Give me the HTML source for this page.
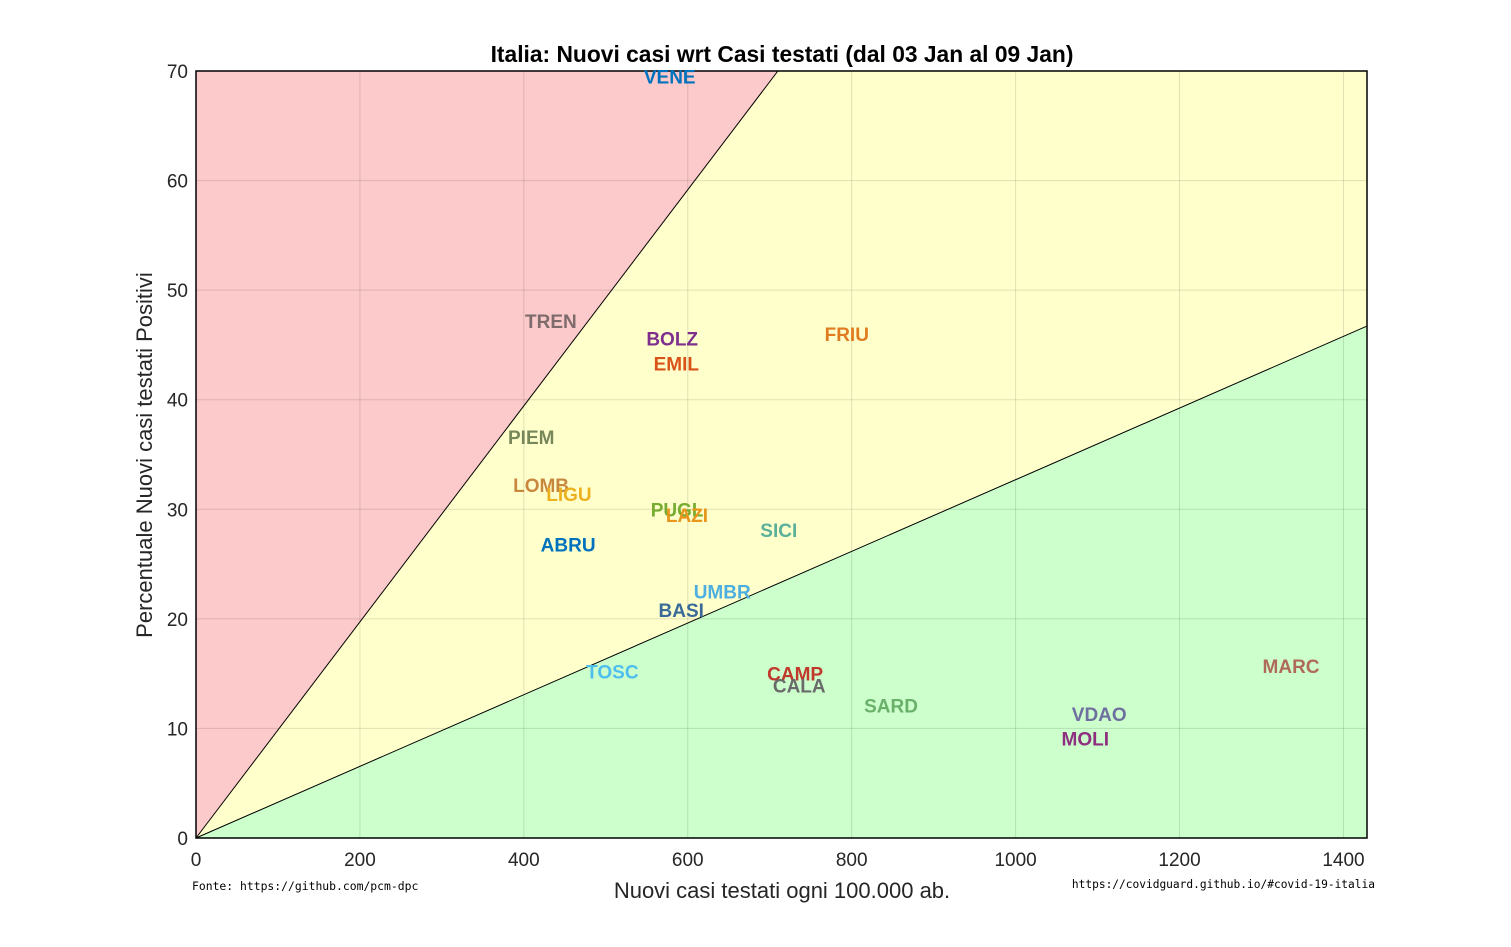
<!DOCTYPE html>
<html><head><meta charset="utf-8"><style>
body{margin:0;background:#fff;}
svg text{font-family:"Liberation Sans",Arial,sans-serif;}
svg text.mono{font-family:"DejaVu Sans Mono","Liberation Mono",monospace;}
</style></head><body>
<svg id="chart" width="1511" height="942" xmlns="http://www.w3.org/2000/svg">
<rect width="1511" height="942" fill="#fff"/>
<g id="plot"></g>
<text x="782" y="62" text-anchor="middle" font-size="22.8" font-weight="bold">Italia: Nuovi casi wrt Casi testati (dal 03 Jan al 09 Jan)</text>
<text x="782" y="898" text-anchor="middle" font-size="22" fill="#262626">Nuovi casi testati ogni 100.000 ab.</text>
<text transform="translate(152,455) rotate(-90)" text-anchor="middle" font-size="22" fill="#262626">Percentuale Nuovi casi testati Positivi</text>
<text class="mono" x="192" y="890" font-size="11.4">Fonte: https://github.com/pcm-dpc</text>
<text class="mono" x="1375" y="888" text-anchor="end" font-size="11.2">https://covidguard.github.io/#covid-19-italia</text>
</svg>
<script>
const regions=["VENE","TREN","BOLZ","EMIL","FRIU","PIEM","LOMB","LIGU","PUGL","LAZI","SICI","ABRU","UMBR","BASI","TOSC","CAMP","CALA","SARD","VDAO","MOLI","MARC"];
const testedValues=[578,433,581,586,794,409,421,455,587,599,711,454,642,592,508,731,736,848,1102,1085,1336];
const positiveValues=[69.5,47.2,45.6,43.3,46.0,36.6,32.2,31.4,30.0,29.5,28.1,26.8,22.5,20.8,15.2,15.0,13.9,12.1,11.3,9.1,15.7];
const labelColors=["#0072bd","#7e6b6b","#7e2f8e","#d95319","#e07b20","#77875a","#c8873e","#edb120","#77ac30","#e8951c","#5bb09a","#0072bd","#4daee0","#3a6a9a","#4dbeee","#c0392b","#6a6a6a","#6ab06a","#6f6fa0","#8e2f80","#b06a5a"];
const xTicks=[0,200,400,600,800,1000,1200,1400];
const yTicks=[0,10,20,30,40,50,60,70];
const redSlope=0.0986, greenSlope=0.0327;
const X0=196,X1=1367,Y0=838,Y1=71,xMax=1428.7,yMax=70;
const sx=v=>X0+v/xMax*(X1-X0), sy=v=>Y0-v/yMax*(Y0-Y1);
const NS="http://www.w3.org/2000/svg", g=document.getElementById('plot');
function mk(t,a){const e=document.createElementNS(NS,t);for(const k in a)e.setAttribute(k,a[k]);g.appendChild(e);return e;}
let e;
e=mk('rect',{x:X0,y:Y1,width:X1-X0,height:Y0-Y1,fill:'#ffffcc'});


const rx=yMax/redSlope;
e=mk('polygon',{points:`${sx(0)},${sy(0)} ${sx(rx)},${sy(yMax)} ${sx(0)},${sy(yMax)}`,fill:'#fccaca'});


e=mk('polygon',{points:`${sx(0)},${sy(0)} ${sx(xMax)},${sy(greenSlope*xMax)} ${sx(xMax)},${sy(0)}`,fill:'#ccffcc'});


xTicks.forEach(t=>{
 e=mk('line',{x1:sx(t),x2:sx(t),y1:Y1,y2:Y0,stroke:'#000','stroke-opacity':0.12});
 
 
 e=mk('text',{x:sx(t),y:Y0+28,'text-anchor':'middle','font-size':19,fill:'#262626'});e.textContent=t;
 
 
});
yTicks.forEach(t=>{
 e=mk('line',{x1:X0,x2:X1,y1:sy(t),y2:sy(t),stroke:'#000','stroke-opacity':0.12});
 
 
 e=mk('text',{x:X0-8,y:sy(t)+7,'text-anchor':'end','font-size':19,fill:'#262626'});e.textContent=t;
 
 
});
e=mk('line',{x1:sx(0),y1:sy(0),x2:sx(rx),y2:sy(yMax),stroke:'#000','stroke-width':1});


e=mk('line',{x1:sx(0),y1:sy(0),x2:sx(xMax),y2:sy(greenSlope*xMax),stroke:'#000','stroke-width':1});


e=mk('rect',{x:X0,y:Y1,width:X1-X0,height:Y0-Y1,fill:'none',stroke:'#000','stroke-width':1.5});


regions.forEach((r,i)=>{
 e=mk('text',{x:sx(testedValues[i]),y:sy(positiveValues[i])+7,'text-anchor':'middle','font-size':19,'font-weight':'bold',fill:labelColors[i]});
 e.textContent=r;
 
 
});
</script>
</body></html>
